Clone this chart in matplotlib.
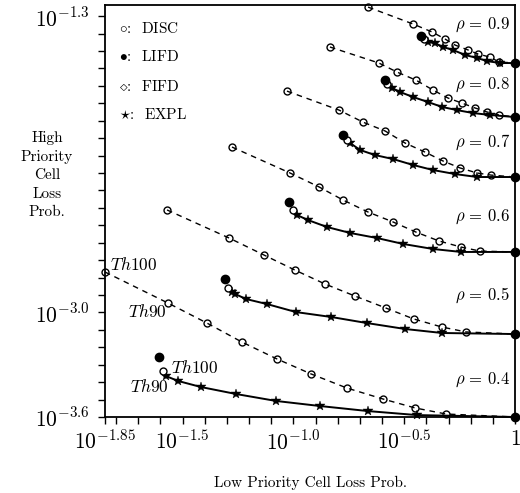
import numpy as np
import matplotlib
matplotlib.use('Agg')
import matplotlib.pyplot as plt
from matplotlib.ticker import FixedLocator, FixedFormatter, NullFormatter

plt.rcParams['mathtext.fontset'] = 'cm'
plt.rcParams['font.family'] = ['cmr10', 'DejaVu Serif']
plt.rcParams['axes.unicode_minus'] = False

# ---- data (log10 of probabilities) ----
rho_labels = ['0.9', '0.8', '0.7', '0.6', '0.5', '0.4']

disc09_lx = [-0.663, -0.460, -0.374, -0.316, -0.270, -0.212, -0.167, -0.113, -0.072, 0.0]
disc09_ly = [-1.248, -1.345, -1.391, -1.431, -1.466, -1.494, -1.517, -1.535, -1.563, -1.569]
expl09_lx = [-0.392, -0.361, -0.325, -0.280, -0.225, -0.171, -0.126, -0.067, 0.0]
expl09_ly = [-1.449, -1.455, -1.477, -1.494, -1.523, -1.540, -1.558, -1.569, -1.569]

disc08_lx = [-0.835, -0.614, -0.532, -0.447, -0.370, -0.302, -0.239, -0.180, -0.126, -0.072, 0.0]
disc08_ly = [-1.477, -1.569, -1.621, -1.667, -1.724, -1.770, -1.799, -1.827, -1.850, -1.867, -1.879]
expl08_lx = [-0.555, -0.519, -0.460, -0.392, -0.329, -0.262, -0.189, -0.113, 0.0]
expl08_ly = [-1.712, -1.735, -1.764, -1.793, -1.821, -1.839, -1.856, -1.867, -1.879]

disc07_lx = [-1.029, -0.794, -0.686, -0.586, -0.496, -0.406, -0.325, -0.248, -0.171, -0.108, 0.0]
disc07_ly = [-1.730, -1.839, -1.908, -1.959, -2.028, -2.080, -2.131, -2.171, -2.200, -2.212, -2.223]
expl07_lx = [-0.744, -0.699, -0.632, -0.550, -0.460, -0.370, -0.270, -0.171, 0.0]
expl07_ly = [-2.028, -2.068, -2.097, -2.120, -2.154, -2.183, -2.206, -2.223, -2.223]

disc06_lx = [-1.277, -1.015, -0.884, -0.776, -0.663, -0.550, -0.447, -0.343, -0.243, -0.158, 0.0]
disc06_ly = [-2.051, -2.200, -2.280, -2.355, -2.424, -2.481, -2.539, -2.590, -2.625, -2.648, -2.653]
expl06_lx = [-0.984, -0.934, -0.848, -0.744, -0.623, -0.505, -0.370, -0.243, 0.0]
expl06_ly = [-2.441, -2.470, -2.510, -2.544, -2.573, -2.607, -2.636, -2.653, -2.653]

disc05_lx = [-1.570, -1.290, -1.132, -0.993, -0.857, -0.722, -0.582, -0.456, -0.329, -0.221, 0.0]
disc05_ly = [-2.412, -2.573, -2.671, -2.757, -2.837, -2.906, -2.975, -3.038, -3.084, -3.112, -3.124]
expl05_lx = [-1.277, -1.263, -1.214, -1.119, -0.988, -0.830, -0.668, -0.496, -0.329, 0.0]
expl05_ly = [-2.883, -2.894, -2.923, -2.952, -2.998, -3.026, -3.061, -3.095, -3.118, -3.124]

disc04_lx = [-1.850, -1.566, -1.390, -1.232, -1.074, -0.920, -0.758, -0.595, -0.451, -0.311, 0.0]
disc04_ly = [-2.768, -2.946, -3.061, -3.170, -3.267, -3.353, -3.434, -3.497, -3.548, -3.583, -3.600]
expl04_lx = [-1.575, -1.521, -1.417, -1.259, -1.078, -0.880, -0.663, -0.442, 0.0]
expl04_ly = [-3.365, -3.393, -3.428, -3.468, -3.508, -3.537, -3.566, -3.589, -3.600]

# LIFD (filled dot at start of EXPL curve) and FIFD points, per rho (0.9 .. 0.4)
lifd_lx = [-0.424, -0.587, -0.776, -1.020, -1.308, -1.606]
lifd_ly = [-1.414, -1.667, -1.982, -2.366, -2.808, -3.256]
fifd_lx = [-0.410, -0.578, -0.758, -1.002, -1.295, -1.588]
fifd_ly = [-1.430, -1.689, -2.011, -2.412, -2.860, -3.336]

# end points at x = 1
end_lx = [0.0, 0.0, 0.0, 0.0, 0.0, 0.0]
end_ly = [-1.569, -1.879, -2.223, -2.653, -3.124, -3.600]

xtick_lv = [-1.85, -1.5, -1.0, -0.5, 0.0]
xtick_labels = [r'$10^{-1.85}$', r'$10^{-1.5}$', r'$10^{-1.0}$', r'$10^{-0.5}$', r'$1$']
ytick_lv = [-1.3, -3.0, -3.6]
ytick_labels = [r'$10^{-1.3}$', r'$10^{-3.0}$', r'$10^{-3.6}$']

# ---- figure ----
W, H = 520, 493
fig = plt.figure(figsize=(W / 100, H / 100), dpi=100)
ax = fig.add_axes([105 / W, (H - 417) / H, 410 / W, 412 / H])
ax.set_xscale('log')
ax.set_yscale('log')
ax.set_xlim(10 ** -1.85, 1.0)
ax.set_ylim(10 ** -3.6, 10 ** -1.236)

def p(v):
    return 10 ** np.asarray(v, dtype=float)

disc_sets = [(disc09_lx, disc09_ly), (disc08_lx, disc08_ly), (disc07_lx, disc07_ly),
             (disc06_lx, disc06_ly), (disc05_lx, disc05_ly), (disc04_lx, disc04_ly)]
expl_sets = [(expl09_lx, expl09_ly), (expl08_lx, expl08_ly), (expl07_lx, expl07_ly),
             (expl06_lx, expl06_ly), (expl05_lx, expl05_ly), (expl04_lx, expl04_ly)]

for lx, ly in disc_sets:
    ax.plot(p(lx), p(ly), color='black', lw=1.0, ls=(0, (4, 3.5)), zorder=2, clip_on=False)
    ax.plot(p(lx[:-1]), p(ly[:-1]), ls='none', marker='o', ms=5, mfc='none',
            mec='black', mew=1.0, zorder=3, clip_on=False)
for lx, ly in expl_sets:
    ax.plot(p(lx), p(ly), color='black', lw=1.4, zorder=2, clip_on=False)
    ax.plot(p(lx[:-1]), p(ly[:-1]), ls='none', marker='*', ms=7, color='black',
            mew=0.3, zorder=3, clip_on=False)

ax.plot(p(fifd_lx), p(fifd_ly), ls='none', marker='o', ms=5, mfc='white', mec='black',
        mew=1.0, zorder=4)
ax.plot(p(lifd_lx), p(lifd_ly), ls='none', marker='o', ms=6, color='black', zorder=4)
ax.plot(p(end_lx), p(end_ly), ls='none', marker='o', ms=6, color='black', zorder=5,
        clip_on=False)

# ticks
ax.xaxis.set_major_locator(FixedLocator(list(p(xtick_lv))))
ax.xaxis.set_major_formatter(FixedFormatter(xtick_labels))
ax.xaxis.set_minor_locator(FixedLocator(list(p(np.round(np.arange(-1.8, 0.0, 0.1), 2)))))
ax.xaxis.set_minor_formatter(NullFormatter())
ax.yaxis.set_major_locator(FixedLocator(list(p(ytick_lv))))
ax.yaxis.set_major_formatter(FixedFormatter(ytick_labels))
ax.yaxis.set_minor_locator(FixedLocator(list(p(np.round(np.arange(-3.5, -1.35, 0.1), 2)))))
ax.yaxis.set_minor_formatter(NullFormatter())
ax.tick_params(which='both', direction='out', length=5, width=1.0, top=False, right=False)
ax.tick_params(axis='x', which='major', labelsize=15.5, pad=4)
ax.tick_params(axis='y', which='major', labelsize=15.5, pad=6)
for s in ax.spines.values():
    s.set_linewidth(1.3)

# rho labels
rho_y = [0.951, 0.806, 0.667, 0.485, 0.296, 0.090]
for lab, yy in zip(rho_labels, rho_y):
    ax.text(0.988, yy, r'$\rho\,=\,%s$' % lab, transform=ax.transAxes, ha='right',
            va='center', fontsize=12)

# legend (text style)
leg = [r'$\circ$:  DISC', r'$\bullet$:  LIFD', r'$\diamond$:  FIFD', r'$\star$:  EXPL']
leg_y = [0.944, 0.874, 0.803, 0.733]
for t, yy in zip(leg, leg_y):
    ax.text(0.034, yy, t, transform=ax.transAxes, ha='left', va='center', fontsize=11)

# threshold annotations
ax.text(0.012, 0.369, r'$Th100$', transform=ax.transAxes, ha='left', va='center', fontsize=12.5)
ax.text(0.056, 0.255, r'$Th90$', transform=ax.transAxes, ha='left', va='center', fontsize=12.5)
ax.text(0.161, 0.119, r'$Th100$', transform=ax.transAxes, ha='left', va='center', fontsize=12.5)
ax.text(0.061, 0.073, r'$Th90$', transform=ax.transAxes, ha='left', va='center', fontsize=12.5)

# axis titles
fig.text(47 / W, 1 - 175 / H, 'High\nPriority\nCell\nLoss\nProb.', ha='center', va='center',
         multialignment='center', fontsize=11, linespacing=1.45)
fig.text(310 / W, 1 - 483 / H, 'Low Priority Cell Loss Prob.', ha='center', va='center',
         fontsize=11)

fig.savefig('out.png', dpi=100)
